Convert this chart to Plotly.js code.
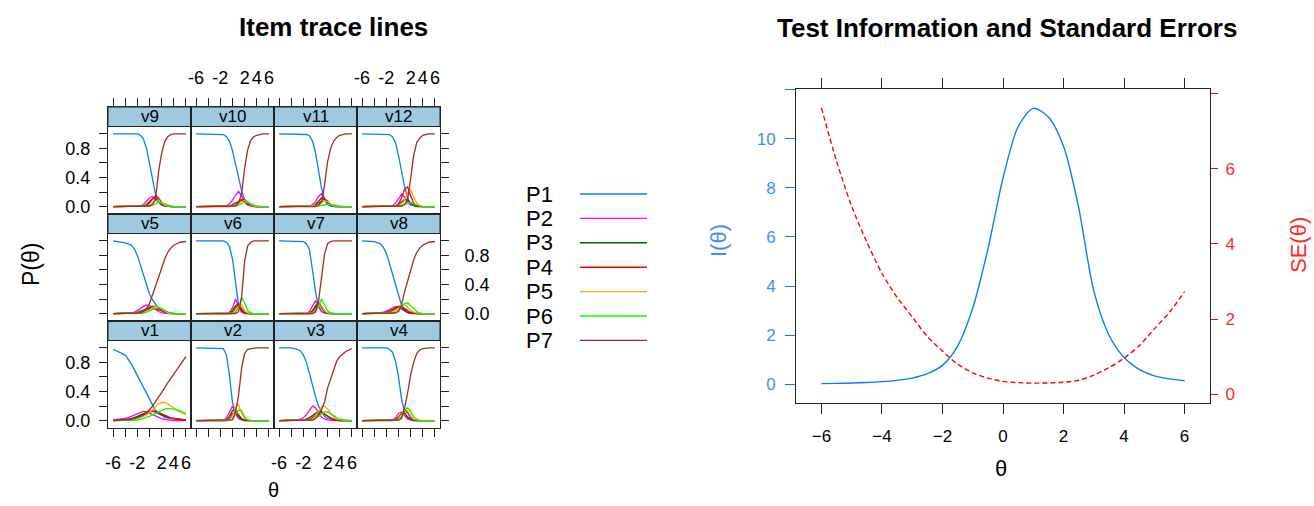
<!DOCTYPE html>
<html><head><meta charset="utf-8">
<script src="https://cdn.plot.ly/plotly-3.0.1.min.js"></script>
<style>html,body{margin:0;padding:0;background:#fff}#chart{width:1314px;height:506px}</style>
</head><body><div id="chart"></div>
<script>
// ---------- data ----------
const theta = [-6,-4,-3,-2.5,-2,-1.5,-1,-0.5,0,0.5,1,1.5,2,2.5,3,3.5,4,5,6];
const categories = ['P1','P2','P3','P4','P5','P6','P7'];
const catColors = ['#0080ff','#ff00ff','#006400','#ff0000','#ffa500','#00ff00','#a52a2a'];
const panelRows = [['v9','v10','v11','v12'],['v5','v6','v7','v8'],['v1','v2','v3','v4']];
const xTickVals = [-6,-4,-2,0,2,4,6];
const xTickText = ['-6','','-2','','2','4','6'];
const yTickVals = [0,0.2,0.4,0.6,0.8,1.0];
const yTickText = ['0.0','','0.4','','0.8',''];

const v1 = [
 [0.98,0.9,0.78,0.7,0.62,0.54,0.45,0.36,0.28,0.2,0.14,0.1,0.07,0.05,0.04,0.03,0.02,0.01,0.01],
 [0.01,0.03,0.06,0.08,0.1,0.12,0.13,0.12,0.1,0.08,0.06,0.04,0.03,0.02,0.01,0.01,0,0,0],
 [0,0.01,0.03,0.04,0.06,0.08,0.1,0.12,0.13,0.13,0.12,0.1,0.08,0.06,0.05,0.04,0.03,0.02,0.01],
 [0,0.01,0.02,0.03,0.04,0.06,0.08,0.1,0.12,0.13,0.13,0.11,0.09,0.07,0.05,0.04,0.03,0.02,0.01],
 [0,0,0.01,0.02,0.03,0.04,0.06,0.08,0.11,0.15,0.19,0.23,0.25,0.25,0.23,0.2,0.17,0.12,0.08],
 [0,0,0,0.01,0.01,0.02,0.03,0.04,0.06,0.08,0.1,0.13,0.15,0.16,0.17,0.17,0.16,0.14,0.1],
 [0,0.01,0.02,0.03,0.04,0.06,0.08,0.11,0.15,0.2,0.26,0.32,0.39,0.45,0.52,0.58,0.64,0.76,0.88]];
const v2 = [
 [1,1,1,1,1,0.99,0.9,0.62,0.25,0.1,0.03,0.01,0,0,0,0,0,0,0],
 [0,0,0,0,0,0,0.04,0.13,0.2,0.1,0.03,0.01,0,0,0,0,0,0,0],
 [0,0,0,0,0,0,0.01,0.06,0.14,0.14,0.06,0.02,0,0,0,0,0,0,0],
 [0,0,0,0,0,0,0,0.03,0.1,0.13,0.08,0.03,0.01,0,0,0,0,0,0],
 [0,0,0,0,0,0,0,0.01,0.07,0.18,0.22,0.1,0.03,0.01,0,0,0,0,0],
 [0,0,0,0,0,0,0,0,0.02,0.08,0.15,0.14,0.05,0.01,0,0,0,0,0],
 [0,0,0,0,0,0,0,0,0.01,0.12,0.35,0.72,0.92,0.98,0.99,1,1,1,1]];
const v3 = [
 [1,1,0.98,0.96,0.9,0.8,0.65,0.47,0.33,0.2,0.12,0.06,0.03,0.02,0.01,0,0,0,0],
 [0,0,0.01,0.02,0.04,0.08,0.14,0.2,0.18,0.1,0.05,0.02,0.01,0,0,0,0,0,0],
 [0,0,0,0,0.01,0.02,0.04,0.07,0.1,0.12,0.12,0.09,0.06,0.03,0.02,0.01,0,0,0],
 [0,0,0,0,0,0.01,0.02,0.04,0.07,0.1,0.11,0.09,0.06,0.04,0.02,0.01,0,0,0],
 [0,0,0,0,0,0,0.01,0.02,0.06,0.13,0.19,0.2,0.16,0.1,0.05,0.02,0.01,0,0],
 [0,0,0,0,0,0,0,0.01,0.03,0.06,0.1,0.12,0.12,0.1,0.07,0.04,0.02,0.01,0],
 [0,0,0,0,0,0,0,0.01,0.03,0.08,0.15,0.26,0.45,0.58,0.71,0.82,0.88,0.95,0.99]];
const v4 = [
 [1,1,1,1,1,0.98,0.94,0.82,0.6,0.3,0.12,0.04,0.01,0,0,0,0,0,0],
 [0,0,0,0,0,0,0.01,0.04,0.1,0.12,0.07,0.02,0.01,0,0,0,0,0,0],
 [0,0,0,0,0,0,0,0.02,0.05,0.1,0.1,0.05,0.02,0,0,0,0,0,0],
 [0,0,0,0,0,0,0,0.01,0.04,0.1,0.15,0.11,0.04,0.01,0,0,0,0,0],
 [0,0,0,0,0,0,0,0.01,0.03,0.08,0.15,0.14,0.07,0.02,0.01,0,0,0,0],
 [0,0,0,0,0,0,0,0,0.01,0.05,0.14,0.18,0.13,0.05,0.02,0,0,0,0],
 [0,0,0,0,0,0,0,0,0.01,0.03,0.17,0.38,0.63,0.8,0.92,0.97,0.99,1,1]];
const v5 = [
 [1,0.97,0.94,0.89,0.8,0.66,0.52,0.38,0.27,0.19,0.12,0.07,0.04,0.02,0.01,0.01,0,0,0],
 [0,0,0.01,0.02,0.04,0.07,0.1,0.12,0.11,0.08,0.05,0.03,0.01,0,0,0,0,0,0],
 [0,0,0,0.01,0.02,0.03,0.05,0.07,0.09,0.1,0.1,0.08,0.05,0.03,0.01,0,0,0,0],
 [0,0,0,0,0.01,0.02,0.03,0.05,0.07,0.08,0.07,0.06,0.04,0.02,0.01,0,0,0,0],
 [0,0,0,0,0,0.01,0.02,0.03,0.05,0.08,0.1,0.09,0.06,0.03,0.01,0,0,0,0],
 [0,0,0,0,0,0,0.01,0.02,0.04,0.06,0.08,0.09,0.07,0.04,0.02,0.01,0,0,0],
 [0,0,0,0,0,0.01,0.03,0.07,0.14,0.25,0.38,0.5,0.63,0.75,0.84,0.9,0.94,0.98,0.99]];
const v6 = [
 [1,1,1,1,1,1,0.98,0.92,0.75,0.42,0.12,0.03,0.01,0,0,0,0,0,0],
 [0,0,0,0,0,0,0,0.02,0.08,0.2,0.1,0.02,0,0,0,0,0,0,0],
 [0,0,0,0,0,0,0,0.01,0.04,0.11,0.13,0.04,0.01,0,0,0,0,0,0],
 [0,0,0,0,0,0,0,0,0.02,0.08,0.12,0.07,0.02,0,0,0,0,0,0],
 [0,0,0,0,0,0,0,0,0.01,0.04,0.1,0.12,0.04,0.01,0,0,0,0,0],
 [0,0,0,0,0,0,0,0,0,0.02,0.08,0.22,0.15,0.04,0.01,0,0,0,0],
 [0,0,0,0,0,0,0,0,0,0,0.03,0.22,0.72,0.93,0.98,1,1,1,1]];
const v7 = [
 [1,1,1,1,0.99,0.96,0.88,0.6,0.3,0.1,0.03,0.01,0,0,0,0,0,0,0],
 [0,0,0,0,0,0,0.03,0.1,0.18,0.1,0.03,0.01,0,0,0,0,0,0,0],
 [0,0,0,0,0,0,0.01,0.04,0.11,0.14,0.07,0.02,0,0,0,0,0,0,0],
 [0,0,0,0,0,0,0,0.02,0.08,0.15,0.1,0.03,0.01,0,0,0,0,0,0],
 [0,0,0,0,0,0,0,0.01,0.05,0.12,0.1,0.04,0.01,0,0,0,0,0,0],
 [0,0,0,0,0,0,0,0,0.02,0.1,0.2,0.12,0.04,0.01,0,0,0,0,0],
 [0,0,0,0,0,0,0,0,0.03,0.17,0.5,0.82,0.96,0.99,1,1,1,1,1]];
const v8 = [
 [1,0.99,0.96,0.91,0.83,0.7,0.55,0.4,0.24,0.12,0.05,0.02,0.01,0,0,0,0,0,0],
 [0,0,0.01,0.02,0.04,0.06,0.08,0.1,0.09,0.06,0.03,0.01,0,0,0,0,0,0,0],
 [0,0,0,0.01,0.02,0.04,0.06,0.09,0.1,0.08,0.05,0.02,0.01,0,0,0,0,0,0],
 [0,0,0,0,0.01,0.02,0.04,0.07,0.1,0.1,0.07,0.04,0.02,0.01,0,0,0,0,0],
 [0,0,0,0,0,0.01,0.02,0.04,0.07,0.11,0.12,0.09,0.05,0.02,0.01,0,0,0,0],
 [0,0,0,0,0,0,0.01,0.02,0.05,0.1,0.14,0.15,0.11,0.06,0.03,0.01,0,0,0],
 [0,0,0,0,0,0,0,0.01,0.03,0.12,0.3,0.46,0.6,0.74,0.84,0.9,0.94,0.98,0.99]];
const v9 = [
 [1,1,1,1,1,0.98,0.93,0.8,0.58,0.34,0.17,0.07,0.03,0.01,0,0,0,0,0],
 [0,0,0,0,0,0.01,0.03,0.07,0.12,0.14,0.1,0.05,0.02,0.01,0,0,0,0,0],
 [0,0,0,0,0,0,0.01,0.03,0.07,0.11,0.11,0.07,0.03,0.01,0,0,0,0,0],
 [0,0,0,0,0,0,0.01,0.02,0.05,0.11,0.15,0.12,0.06,0.02,0.01,0,0,0,0],
 [0,0,0,0,0,0,0,0.01,0.02,0.05,0.08,0.08,0.05,0.02,0.01,0,0,0,0],
 [0,0,0,0,0,0,0,0,0.01,0.02,0.04,0.06,0.05,0.04,0.02,0.01,0,0,0],
 [0,0,0,0,0,0,0,0,0.01,0.03,0.11,0.48,0.73,0.89,0.96,0.99,1,1,1]];
const v10 = [
 [1,1,1,1,1,0.99,0.96,0.9,0.77,0.58,0.38,0.22,0.09,0.03,0.01,0,0,0,0],
 [0,0,0,0,0,0,0.01,0.04,0.09,0.16,0.21,0.15,0.06,0.02,0.01,0,0,0,0],
 [0,0,0,0,0,0,0,0.01,0.03,0.05,0.08,0.09,0.07,0.04,0.02,0,0,0,0],
 [0,0,0,0,0,0,0,0,0.02,0.04,0.07,0.1,0.1,0.06,0.02,0.01,0,0,0],
 [0,0,0,0,0,0,0,0,0.01,0.02,0.04,0.07,0.09,0.07,0.03,0.01,0,0,0],
 [0,0,0,0,0,0,0,0,0,0.01,0.02,0.04,0.06,0.06,0.04,0.02,0.01,0,0],
 [0,0,0,0,0,0,0,0,0,0.01,0.05,0.18,0.53,0.78,0.91,0.96,0.98,1,1]];
const v11 = [
 [1,1,1,1,1,0.99,0.97,0.9,0.74,0.5,0.25,0.1,0.03,0.01,0,0,0,0,0],
 [0,0,0,0,0,0,0.01,0.03,0.07,0.14,0.18,0.1,0.04,0.01,0,0,0,0,0],
 [0,0,0,0,0,0,0,0.01,0.03,0.07,0.12,0.1,0.05,0.02,0,0,0,0,0],
 [0,0,0,0,0,0,0,0.01,0.02,0.05,0.09,0.11,0.08,0.03,0.01,0,0,0,0],
 [0,0,0,0,0,0,0,0,0.01,0.03,0.06,0.08,0.07,0.03,0.01,0,0,0,0],
 [0,0,0,0,0,0,0,0,0,0.01,0.02,0.03,0.03,0.03,0.02,0.02,0.01,0,0],
 [0,0,0,0,0,0,0,0,0,0.02,0.07,0.3,0.62,0.8,0.9,0.95,0.98,1,1]];
const v12 = [
 [1,1,1,1,1,0.99,0.96,0.88,0.7,0.47,0.28,0.12,0.04,0.02,0.01,0,0,0,0],
 [0,0,0,0,0,0,0.01,0.05,0.11,0.17,0.13,0.06,0.02,0.01,0,0,0,0,0],
 [0,0,0,0,0,0,0,0.01,0.03,0.07,0.1,0.09,0.05,0.02,0,0,0,0,0],
 [0,0,0,0,0,0,0,0.01,0.04,0.12,0.24,0.27,0.15,0.05,0.01,0,0,0,0],
 [0,0,0,0,0,0,0,0,0.01,0.03,0.09,0.19,0.23,0.14,0.05,0.02,0,0,0],
 [0,0,0,0,0,0,0,0,0,0.01,0.03,0.05,0.06,0.04,0.02,0.01,0,0,0],
 [0,0,0,0,0,0,0,0,0,0.01,0.03,0.1,0.38,0.7,0.88,0.94,0.98,1,1]];

const thetaInfo = [-6,-5.5,-5,-4.5,-4,-3.5,-3,-2.5,-2,-1.5,-1,-0.5,0,0.5,1,1.5,2,2.5,3,3.5,4,4.5,5,5.5,6];
const info = [0.017,0.026,0.04,0.061,0.096,0.15,0.24,0.42,0.76,1.55,3.1,5.5,8.4,10.5,11.25,10.9,9.7,7.2,3.8,2.0,1.08,0.6,0.33,0.21,0.134];
const se = [7.62,6.2,5.0,4.05,3.22,2.58,2.06,1.54,1.15,0.8,0.57,0.43,0.345,0.31,0.298,0.303,0.321,0.373,0.51,0.71,0.96,1.29,1.74,2.18,2.73];
const infoTicks = [0,2,4,6,8,10,12];
const infoTickText = ['0','2','4','6','8','10',''];
const seTicks = [0,2,4,6,8];
const seTickText = ['0','2','4','6',''];
const thetaTicks = [-6,-4,-2,0,2,4,6];

// ---------- build ----------
const items = {v1,v2,v3,v4,v5,v6,v7,v8,v9,v10,v11,v12};
const W = 1314, H = 506;
const fx = p => p / W, fy = p => 1 - p / H;
const FONT = 'Liberation Sans, Arial, sans-serif';
const colX = [108,191,274,357,440];
const rowY = [107,214,321,428];
const stripH = 19.5;
const yTop = 1.1 + stripH * 1.2 / (107 - stripH);
const frame = '#222';

const data = [];
const layout = {
  width: W, height: H, margin: {l:0,r:0,t:0,b:0},
  paper_bgcolor: '#fff', plot_bgcolor: 'rgba(0,0,0,0)',
  showlegend: false, font: {family: FONT, color: '#000'},
  shapes: [], annotations: []
};

panelRows.forEach((row, r) => {
  row.forEach((name, c) => {
    const k = r * 4 + c + 1;
    const xs = k === 1 ? '' : String(k);
    items[name].forEach((vals, j) => {
      data.push({x: theta, y: vals, xaxis: 'x' + xs, yaxis: 'y' + xs, mode: 'lines',
        line: {color: catColors[j], width: 1.3}, hoverinfo: 'skip', name: categories[j]});
    });
    const xa = {
      domain: [fx(colX[c]), fx(colX[c + 1])], anchor: 'y' + xs, range: [-6.84, 6.84],
      showgrid: false, zeroline: false, showline: true, mirror: true, linecolor: frame, linewidth: 1,
      tickmode: 'array', tickvals: xTickVals, ticktext: xTickText, ticklen: 8, tickcolor: frame,
      tickfont: {size: 18, family: FONT, color: '#000'}, fixedrange: true
    };
    if (r === 0) { xa.side = 'top'; xa.ticks = 'outside'; xa.showticklabels = (c % 2 === 1); xa.ticklabelstandoff = 7; }
    else if (r === 2) { xa.side = 'bottom'; xa.ticks = 'outside'; xa.showticklabels = (c % 2 === 0); xa.ticklabelstandoff = 10; }
    else { xa.ticks = ''; xa.showticklabels = false; }
    const ya = {
      domain: [fy(rowY[r + 1]), fy(rowY[r])], anchor: 'x' + xs, range: [-0.1, yTop],
      showgrid: false, zeroline: false, showline: true, mirror: true, linecolor: frame, linewidth: 1,
      tickmode: 'array', tickvals: yTickVals, ticktext: yTickText, ticklen: 8, tickcolor: frame,
      tickfont: {size: 18, family: FONT, color: '#000'}, fixedrange: true
    };
    if (c === 0) { ya.side = 'left'; ya.ticks = 'outside'; ya.showticklabels = (r !== 1); ya.ticklabelstandoff = 5; }
    else if (c === 3) { ya.side = 'right'; ya.ticks = 'outside'; ya.showticklabels = (r === 1); ya.ticklabelstandoff = 12; }
    else { ya.ticks = ''; ya.showticklabels = false; }
    layout['xaxis' + xs] = xa;
    layout['yaxis' + xs] = ya;
    // strip
    layout.shapes.push({type: 'rect', xref: 'paper', yref: 'paper',
      x0: fx(colX[c]), x1: fx(colX[c + 1]), y0: fy(rowY[r] + stripH), y1: fy(rowY[r]),
      fillcolor: '#9ecae1', line: {color: frame, width: 1}, layer: 'below'});
    layout.annotations.push({xref: 'paper', yref: 'paper', x: fx((colX[c] + colX[c + 1]) / 2),
      y: fy(rowY[r] + stripH / 2), text: name, showarrow: false, xanchor: 'center', yanchor: 'middle',
      font: {size: 17, family: FONT, color: '#000'}});
  });
});

// legend
categories.forEach((cat, j) => {
  const py = 194 + j * 24.4;
  layout.annotations.push({xref: 'paper', yref: 'paper', x: fx(525), y: fy(py), text: cat,
    showarrow: false, xanchor: 'left', yanchor: 'middle', borderpad: 0,
    font: {size: 22, family: FONT, color: '#000'}});
  layout.shapes.push({type: 'line', xref: 'paper', yref: 'paper', x0: fx(580), x1: fx(647),
    y0: fy(py), y1: fy(py), line: {color: catColors[j], width: 1.4}});
});

// right plot
data.push({x: thetaInfo, y: info, xaxis: 'x13', yaxis: 'y13', mode: 'lines',
  line: {color: '#0080ff', width: 1.4, shape: 'spline', smoothing: 0.8}, hoverinfo: 'skip', name: 'I'});
data.push({x: thetaInfo, y: se, xaxis: 'x13', yaxis: 'y14', mode: 'lines',
  line: {color: '#ff0000', width: 1.4, dash: '5px,3px', shape: 'spline', smoothing: 0.8}, hoverinfo: 'skip', name: 'SE'});

layout.xaxis13 = {domain: [fx(796), fx(1210)], anchor: 'y13', range: [-6.84, 6.84],
  showgrid: false, zeroline: false, showline: true, mirror: 'ticks', linecolor: frame, linewidth: 1,
  tickmode: 'array', tickvals: thetaTicks, ticks: 'outside', ticklen: 10, tickcolor: frame,
  ticklabelstandoff: 8, tickfont: {size: 17, family: FONT, color: '#000'}, fixedrange: true};
layout.yaxis13 = {domain: [fy(402.7), fy(89)], anchor: 'x13', range: [-0.763, 12.04],
  showgrid: false, zeroline: false, showline: true, mirror: true, linecolor: frame, linewidth: 1,
  tickmode: 'array', tickvals: infoTicks, ticktext: infoTickText, ticks: 'outside', ticklen: 10,
  tickcolor: '#0080ff', ticklabelstandoff: 6, tickfont: {size: 17, family: FONT, color: '#3d8eff'}, fixedrange: true};
layout.yaxis14 = {domain: [fy(402.7), fy(89)], anchor: 'x13', overlaying: 'y13', side: 'right',
  range: [-0.223, 8.12], showgrid: false, zeroline: false, showline: false,
  tickmode: 'array', tickvals: seTicks, ticktext: seTickText, ticks: 'outside', ticklen: 7,
  tickcolor: '#ff0000', ticklabelstandoff: 4, tickfont: {size: 17, family: FONT, color: '#ff2a2a'}, fixedrange: true};

// titles
const ann = (x, y, text, size, opts) => layout.annotations.push(Object.assign({xref: 'paper', yref: 'paper',
  x: fx(x), y: fy(y), text, showarrow: false, xanchor: 'center', yanchor: 'middle',
  font: {size, family: FONT, color: '#000'}}, opts || {}));
ann(333, 27, '<b>Item trace lines</b>', 26);
ann(1007, 28, '<b>Test Information and Standard Errors</b>', 26);
ann(31, 265, 'P(θ)', 23, {textangle: -90});
ann(273, 490, 'θ', 20);
ann(1001, 468, 'θ', 22);
ann(718, 241, 'I(θ)', 22, {textangle: -90, font: {size: 22, family: FONT, color: '#3d8eff'}});
ann(1298, 245, 'SE(θ)', 22, {textangle: -90, font: {size: 22, family: FONT, color: '#ff2a2a'}});

Plotly.newPlot('chart', data, layout, {staticPlot: true, displayModeBar: false});
</script></body></html>
